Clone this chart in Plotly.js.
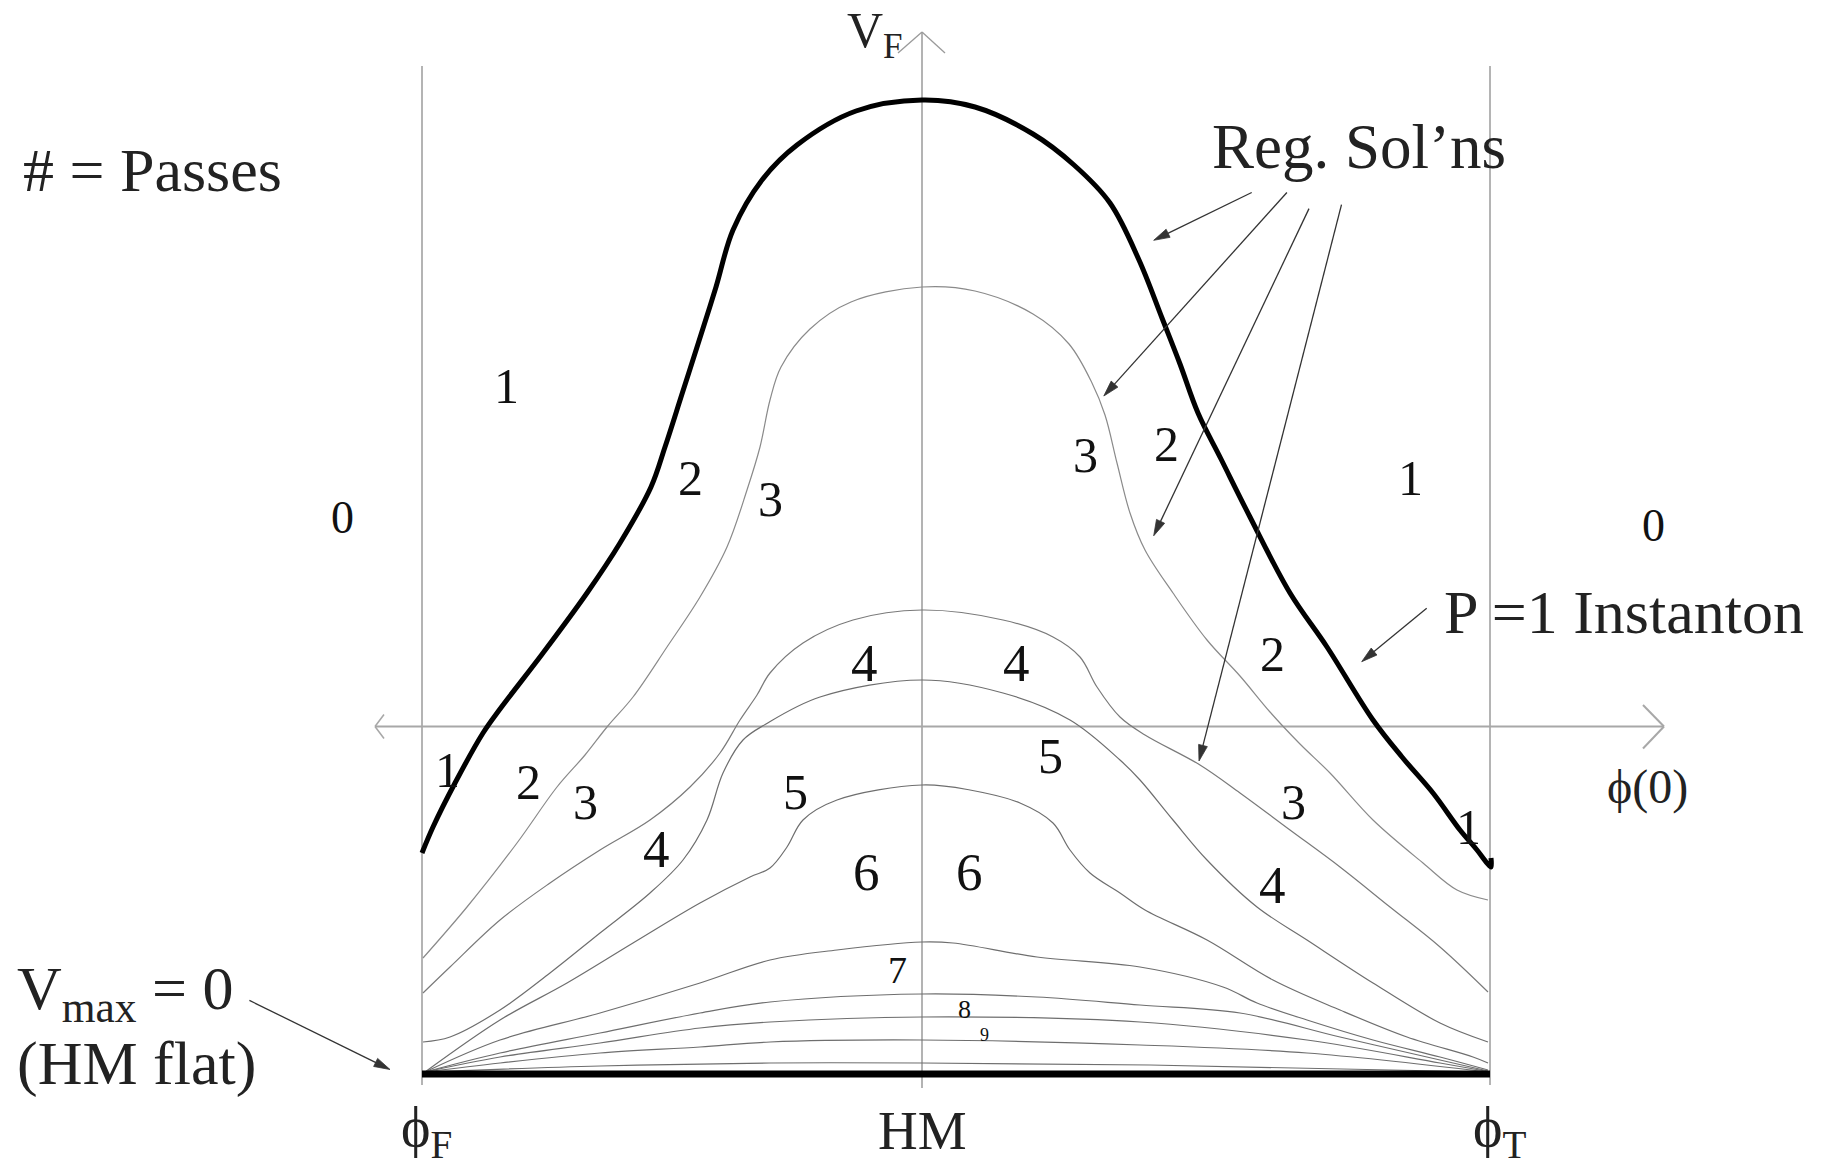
<!DOCTYPE html>
<html><head><meta charset="utf-8">
<script src="https://cdn.plot.ly/plotly-3.0.1.min.js"></script>
<style>html,body{margin:0;padding:0;background:#fff}#chart{width:1836px;height:1166px}</style>
</head><body><div id="chart"></div>
<script>
// Diagram units: x = phi(0) (HM at 0), y = V_F (V_max = 0 baseline at 0)
const PHI_F = -5.0, HM = 0, PHI_T = 5.68, AXIS_V = 3.475;

// P = 1 instanton (thick)
const instantonX = [-5.00,-4.89,-4.67,-4.39,-4.22,-3.79,-3.35,-3.02,-2.71,-2.57,-2.40,-2.24,-2.06,-1.89,-1.60,-1.25,-0.66,0.00,0.53,1.11,1.52,1.88,2.17,2.40,2.58,2.76,2.99,3.28,3.68,4.05,4.51,4.80,5.11,5.38,5.55,5.65,5.69,5.69];
const instantonY = [2.21,2.47,2.91,3.41,3.65,4.21,4.81,5.31,5.87,6.27,6.80,7.30,7.87,8.44,8.94,9.29,9.63,9.74,9.67,9.40,9.09,8.71,8.14,7.56,7.10,6.61,6.15,5.57,4.81,4.27,3.54,3.17,2.81,2.44,2.24,2.11,2.07,2.16];

// Regular solutions (thin), from highest to lowest
const sol3X = [-4.99,-4.55,-4.05,-3.65,-3.37,-3.15,-2.89,-2.55,-2.22,-1.95,-1.75,-1.62,-1.52,-1.41,-1.12,-0.71,0,0.53,1.11,1.47,1.70,1.83,1.95,2.08,2.23,2.51,2.85,3.18,3.48,3.78,4.08,4.51,5.01,5.35,5.66];
const sol3Y = [1.16,1.67,2.31,2.87,3.19,3.47,3.77,4.27,4.77,5.27,5.84,6.27,6.74,7.07,7.45,7.72,7.87,7.83,7.60,7.30,6.91,6.59,6.11,5.61,5.24,4.81,4.34,3.98,3.62,3.30,3.01,2.54,2.11,1.84,1.74];

const sol4X = [-4.99,-4.72,-4.22,-3.72,-3.22,-2.72,-2.32,-2.02,-1.82,-1.65,-1.52,-1.19,-0.69,0,0.81,1.31,1.58,1.75,1.98,2.23,2.78,3.18,3.68,4.18,4.68,5.18,5.66];
const sol4Y = [0.81,1.07,1.54,1.91,2.24,2.54,2.87,3.21,3.54,3.79,4.01,4.31,4.54,4.64,4.54,4.37,4.17,3.87,3.57,3.39,3.09,2.81,2.44,2.07,1.67,1.27,0.82];

const sol5X = [-4.99,-4.72,-4.22,-3.72,-3.22,-2.72,-2.39,-2.15,-1.99,-1.79,-1.56,-1.02,0,0.81,1.48,1.98,2.18,2.51,2.85,3.35,3.85,4.51,5.18,5.66];
const sol5Y = [0.32,0.37,0.64,1.01,1.41,1.81,2.14,2.54,3.01,3.34,3.50,3.77,3.94,3.81,3.54,3.14,2.94,2.54,2.14,1.67,1.34,0.91,0.51,0.32];

const sol6X = [-4.97,-4.22,-3.55,-2.89,-2.22,-1.72,-1.52,-1.35,-1.19,-0.85,0,0.48,0.98,1.31,1.48,1.68,1.98,2.23,2.85,3.51,4.18,4.85,5.51,5.66];
const sol6Y = [0.02,0.54,0.91,1.31,1.71,1.97,2.06,2.27,2.54,2.74,2.89,2.84,2.71,2.51,2.24,2.01,1.81,1.64,1.34,0.94,0.64,0.37,0.17,0.11];

const sol7X = [-4.97,-4.22,-3.22,-2.22,-1.52,-0.85,0,0.31,1.15,2.18,3.01,3.35,3.85,4.51,5.18,5.66];
const sol7Y = [0.02,0.34,0.61,0.91,1.14,1.24,1.32,1.31,1.17,1.07,0.87,0.71,0.54,0.34,0.17,0.04];

const sol8X = [-4.97,-4.22,-3.22,-2.22,-1.52,0,1.15,2.18,3.18,4.18,5.18,5.66];
const sol8Y = [0.02,0.21,0.41,0.61,0.72,0.80,0.77,0.69,0.61,0.37,0.14,0.03];

const sol9X = [-4.97,-4.22,-3.22,-2.22,-1.52,0,2.18,3.85,5.18,5.66];
const sol9Y = [0.02,0.17,0.31,0.46,0.52,0.57,0.52,0.34,0.11,0.025];

const sol10X = [-4.97,-4.22,-3.22,-2.22,-1.52,0,2.18,3.85,5.66];
const sol10Y = [0.02,0.11,0.21,0.27,0.32,0.34,0.29,0.21,0.02];

const sol11X = [-4.97,-3.22,-1.52,0,2.28,5.66];
const sol11Y = [0.02,0.08,0.11,0.11,0.09,0.02];

// V_max = 0 (HM flat) baseline
const flatX = [PHI_F, PHI_T];
const flatY = [0, 0];

// Region labels: number of passes
const passLabels = ['1','0','2','3','3','2','1','0','2','4','4','1','2','3','4','5','5','6','6','7','8','9','3','4','1'];
const passX = [-4.16,-5.80,-2.315,-1.52,1.63,2.44,4.88,7.31,3.50,-0.58,0.94,-4.75,-3.94,-3.37,-2.66,-1.27,1.28,-0.56,0.47,-0.25,0.42,0.62,3.71,3.50,5.46];
const passY = [6.88,5.57,5.96,5.75,6.19,6.30,5.96,5.49,4.20,4.11,4.11,3.04,2.92,2.72,2.25,2.82,3.18,2.02,2.02,1.04,0.65,0.39,2.72,1.89,2.47];

// Pointer arrows: tail (x0,y0) -> head (x1,y1)
const arrowTailX = [3.297, 3.649, 3.87, 4.195, 5.047, -6.726];
const arrowTailY = [8.815, 8.815, 8.654, 8.693, 4.657, 0.736];
const arrowHeadX = [2.317, 1.818, 2.317, 2.77, 4.397, -5.32];
const arrowHeadY = [8.337, 6.78, 5.382, 3.13, 4.123, 0.045];

const SERIF = "'Liberation Serif', 'Times New Roman', serif";
const thin = '#6e6e6e';

function curve(x, y, w, c) {
  return {type:'scatter', mode:'lines', x:x, y:y, hoverinfo:'skip',
          line:{color:c, width:w, shape:'spline', smoothing:1.0}};
}

const traces = [
  curve(sol11X, sol11Y, 1.2, thin),
  curve(sol10X, sol10Y, 1.2, thin),
  curve(sol9X, sol9Y, 1.2, thin),
  curve(sol8X, sol8Y, 1.2, thin),
  curve(sol7X, sol7Y, 1.2, thin),
  curve(sol6X, sol6Y, 1.2, thin),
  curve(sol5X, sol5Y, 1.2, thin),
  curve(sol4X, sol4Y, 1.2, '#7a7a7a'),
  curve(sol3X, sol3Y, 1.2, '#8a8a8a'),
  {type:'scatter', mode:'lines', x:flatX, y:flatY, hoverinfo:'skip', line:{color:'#000', width:7}},
  curve(instantonX, instantonY, 5, '#000')
];

function seg(x0,y0,x1,y1,c,w,layer){return {type:'line',xref:'x',yref:'y',x0:x0,y0:y0,x1:x1,y1:y1,line:{color:c,width:w},layer:layer||'below'};}

const shapes = [
  seg(PHI_F,-0.11,PHI_F,10.08,'#b4b4b4',2),
  seg(PHI_T,-0.11,PHI_T,10.08,'#b4b4b4',2),
  // V_F axis
  seg(HM,-0.14,HM,10.42,'#8a8a8a',1.3),
  seg(HM-0.24,10.21,HM,10.42,'#9a9a9a',1.3),
  seg(HM+0.23,10.21,HM,10.42,'#9a9a9a',1.3),
  // phi(0) axis
  seg(-5.47,AXIS_V,7.42,AXIS_V,'#a8a8a8',2),
  seg(7.21,AXIS_V+0.215,7.42,AXIS_V,'#a8a8a8',2),
  seg(7.21,AXIS_V-0.22,7.42,AXIS_V,'#a8a8a8',2),
  seg(-5.38,AXIS_V+0.12,-5.47,AXIS_V,'#a8a8a8',1.5),
  seg(-5.38,AXIS_V-0.12,-5.47,AXIS_V,'#a8a8a8',1.5)
];

// arrows: shaft + filled narrow head (x and y share the same pixel scale)
const HEAD_L = 0.16, HEAD_W = 0.045;
arrowTailX.forEach(function(tx, i){
  const ty = arrowTailY[i], hx = arrowHeadX[i], hy = arrowHeadY[i];
  const dx = hx - tx, dy = hy - ty, len = Math.sqrt(dx*dx + dy*dy);
  const ux = dx/len, uy = dy/len, bx = hx - ux*HEAD_L, by = hy - uy*HEAD_L;
  shapes.push(seg(tx, ty, bx + ux*0.02, by + uy*0.02, '#333', 1.3, 'above'));
  shapes.push({type:'path', xref:'x', yref:'y', layer:'above', fillcolor:'#333', line:{color:'#333', width:0.8},
    path:'M'+hx+','+hy+' L'+(bx - uy*HEAD_W)+','+(by + ux*HEAD_W)+' L'+(bx + uy*HEAD_W)+','+(by - ux*HEAD_W)+' Z'});
});

function txt(t,x,y,size,opts){
  return Object.assign({text:t,x:x,y:y,xref:'x',yref:'y',showarrow:false,
    xanchor:'center',yanchor:'middle',font:{family:SERIF,size:size,color:'#222'}},opts||{});
}

const annotations = [
  txt('# = Passes', -7.695, 9.04, 62),
  txt('Reg. Sol\u2019ns', 4.367, 9.27, 63),
  txt('P =1 Instanton', 7.015, 4.62, 62),
  txt('V<sub>max</sub> = 0', -9.073, 0.82, 62, {xanchor:'left'}),
  txt('(HM flat)', -9.073, 0.11, 62, {xanchor:'left'}),
  txt('\u03d5<sub>F</sub>', -5.23, -0.57, 56, {xanchor:'left'}),
  txt('HM', 0, -0.56, 55),
  txt('\u03d5<sub>T</sub>', 5.485, -0.57, 56, {xanchor:'left'}),
  txt('V<sub>F</sub>', -0.77, 10.40, 50, {xanchor:'left'}),
  txt('\u03d5(0)', 7.255, 2.875, 48)
];
passLabels.forEach(function(t,i){
  let s = 50;
  if (t==='0') s = 46;
  if (t==='4' || t==='6') s = 53;
  if (t==='7') s = 38;
  if (t==='8') s = 26;
  if (t==='9') s = 18;
  annotations.push(txt(t, passX[i], passY[i], s, {font:{family:SERIF,size:s,color:'#111'}}));
});

const layout = {
  width:1836, height:1166, margin:{l:0,r:0,t:0,b:0},
  paper_bgcolor:'#fff', plot_bgcolor:'#fff', showlegend:false,
  xaxis:{range:[-9.22,9.14], visible:false, fixedrange:true},
  yaxis:{range:[-0.92,10.74], visible:false, fixedrange:true},
  shapes:shapes, annotations:annotations
};
Plotly.newPlot('chart', traces, layout, {staticPlot:true, displayModeBar:false});
</script></body></html>
